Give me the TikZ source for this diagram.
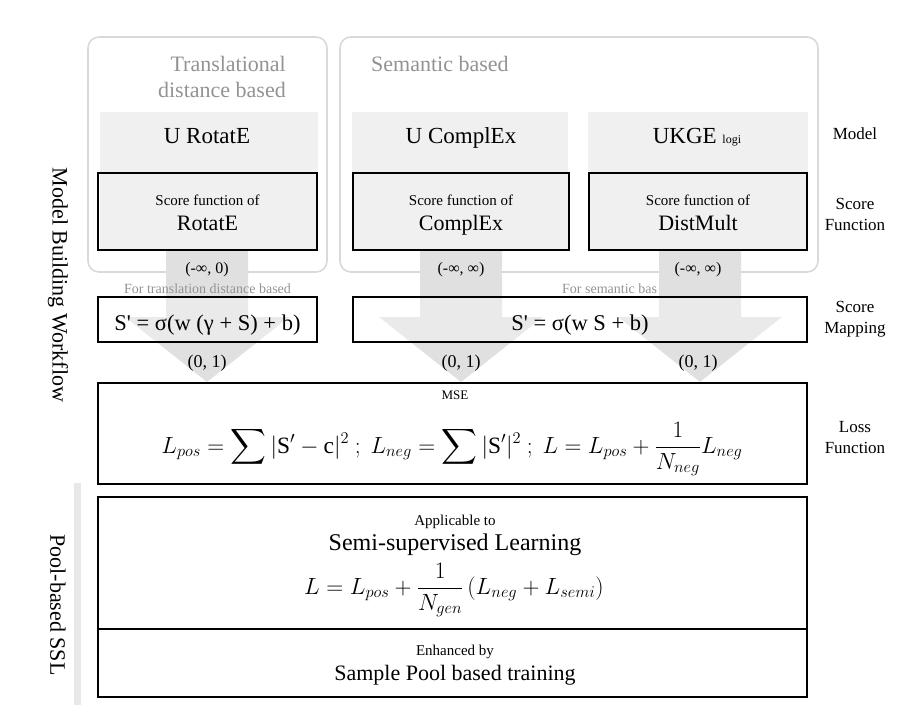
\RequirePackage{fix-cm}
\documentclass[tikz,border=0pt]{standalone}
\usepackage{amsmath}
\usepackage{fontspec}
\setmainfont{Liberation Serif}
\newcommand\fsz[1]{\fontsize{#1}{#1}\selectfont}
\newcommand\fszl[2]{\fontsize{#1}{#2}\selectfont}
\begin{document}
\begin{tikzpicture}[x=1pt,y=-1pt,
  groupbox/.style={draw=gray!30, line width=1.6pt, rounded corners=11pt},
  bandfill/.style={fill=gray!12, draw=none},
  arrowfill/.style={fill=gray!24, draw=none},
  blackbox/.style={draw=black, line width=2.2pt, fill=white, fill opacity=0.35, text opacity=1, inner sep=0pt},
  lbl/.style={anchor=base, inner sep=0pt},
  greylbl/.style={anchor=base, inner sep=0pt, text=gray!85},
  rightlbl/.style={align=center, inner sep=0pt, font=\fszl{17}{21}},
  sidelbl/.style={rotate=-90, inner sep=0pt, font=\fsz{22}}
]
\useasboundingbox (0,0) rectangle (919,720);

% group boxes
\draw[groupbox] (88,37) rectangle (327,272);
\draw[groupbox] (340,37) rectangle (818,272);
\node[greylbl, anchor=base east, font=\fsz{22}] (t1) at (286,71) {Translational};
\node[greylbl, anchor=base east, font=\fsz{22}] (t2) at (286,97) {distance based};
\node[greylbl, anchor=base west, font=\fsz{22}] (t3) at (371,71) {Semantic based};

% model bands
\fill[bandfill] (100,112) rectangle (318,250);
\fill[bandfill] (352,112) rectangle (568,250);
\fill[bandfill] (588,112) rectangle (808,250);

% big arrows (shaft + head)
\foreach \cx in {207,461,700}{
  \fill[arrowfill] (\cx-41,250) -- (\cx+41,250) -- (\cx+41,317) -- (\cx+82,317)
     -- (\cx,382) -- (\cx-82,317) -- (\cx-41,317) -- cycle;
}

% left side strip
\fill[gray!18] (74,483) rectangle (81,705);

% model names
\node[lbl, font=\fsz{23}] (m1) at (207,143) {U RotatE};
\node[lbl, font=\fsz{23}] (m2) at (461,143) {U ComplEx};
\node[lbl, font=\fsz{23}] (m3) at (697,143) {UKGE {\fsz{12}logi}};

% score function boxes
\node[blackbox, fill opacity=0, minimum width=219pt, minimum height=77pt] (sf1) at (207.5,211.5) {};
\node[blackbox, fill opacity=0, minimum width=216pt, minimum height=77pt] (sf2) at (461,211.5) {};
\node[blackbox, fill opacity=0, minimum width=218pt, minimum height=77pt] (sf3) at (698,211.5) {};
\node[lbl, font=\fsz{15}] (sa1) at (207.5,205) {Score function of};
\node[lbl, font=\fsz{22}] (sb1) at (207.5,230) {RotatE};
\node[lbl, font=\fsz{15}] (sa2) at (461,205) {Score function of};
\node[lbl, font=\fsz{22}] (sb2) at (461,230) {ComplEx};
\node[lbl, font=\fsz{15}] (sa3) at (698,205) {Score function of};
\node[lbl, font=\fsz{22}] (sb3) at (698,230) {DistMult};

% ranges
\node[lbl, font=\fsz{16}] (r1) at (207,273) {(-∞, 0)};
\node[lbl, font=\fsz{16}] (r2) at (461,273) {(-∞, ∞)};
\node[lbl, font=\fsz{16}] (r3) at (698,273) {(-∞, ∞)};

% score mapping
\node[greylbl, font=\fsz{14}] (f1) at (207.5,293) {For translation distance based};
\node[greylbl, anchor=base west, font=\fsz{14}] (f2) at (562,293) {For semantic bas};
\node[blackbox, minimum width=219pt, minimum height=45pt] (sm1) at (207.5,319.5) {};
\node[blackbox, minimum width=454pt, minimum height=45pt] (sm2) at (580,319.5) {};
\node[lbl, font=\fsz{22.5}] (se1) at (207.5,330) {S\textquotesingle{} = σ(w (γ + S) + b)};
\node[lbl, font=\fsz{22.5}] (se2) at (580,330) {S\textquotesingle{} = σ(w S + b)};

\node[lbl, font=\fsz{18}] (o1) at (207,367) {(0, 1)};
\node[lbl, font=\fsz{18}] (o2) at (461,367) {(0, 1)};
\node[lbl, font=\fsz{18}] (o3) at (698,367) {(0, 1)};

% loss box
\node[blackbox, minimum width=709pt, minimum height=101pt] (loss) at (452.5,433.5) {};
\node[lbl, font=\fsz{13}] (mse) at (455,399) {MSE};
\node[inner sep=0pt, font=\fsz{23.4}] (lf) at (452,449)
  {$\displaystyle L_{pos}=\sum|\mathrm{S}'-\mathrm{c}|^2\ ;\ L_{neg}=\sum|\mathrm{S}'|^2\ ;\ L=L_{pos}+\frac{1}{N_{neg}}L_{neg}$};

% SSL boxes
\node[blackbox, minimum width=709pt, minimum height=132pt] (ssl) at (452.5,563) {};
\node[blackbox, minimum width=709pt, minimum height=68pt] (pool) at (452.5,663) {};
\node[lbl, font=\fsz{15}] (ap) at (455,525) {Applicable to};
\node[lbl, font=\fsz{24}] (ssll) at (455,550) {Semi-supervised Learning};
\node[inner sep=0pt, font=\fsz{23.5}] (sf) at (454,590)
  {$\displaystyle L=L_{pos}+\frac{1}{N_{gen}}\left(L_{neg}+L_{semi}\right)$};
\node[lbl, font=\fsz{15}] (en) at (455,655) {Enhanced by};
\node[lbl, font=\fsz{22}] (spt) at (455,680) {Sample Pool based training};

% right labels
\node[rightlbl] (rl1) at (855,134) {Model};
\node[rightlbl] (rl2) at (855,214) {Score\\Function};
\node[rightlbl] (rl3) at (855,319) {Score\\Mapping};
\node[rightlbl] (rl4) at (855,438) {Loss\\Function};

% side labels
\node[sidelbl] (sd1) at (58,285) {Model Building Workflow};
\node[sidelbl] (sd2) at (58,605) {Pool-based SSL};
\end{tikzpicture}
\end{document}
